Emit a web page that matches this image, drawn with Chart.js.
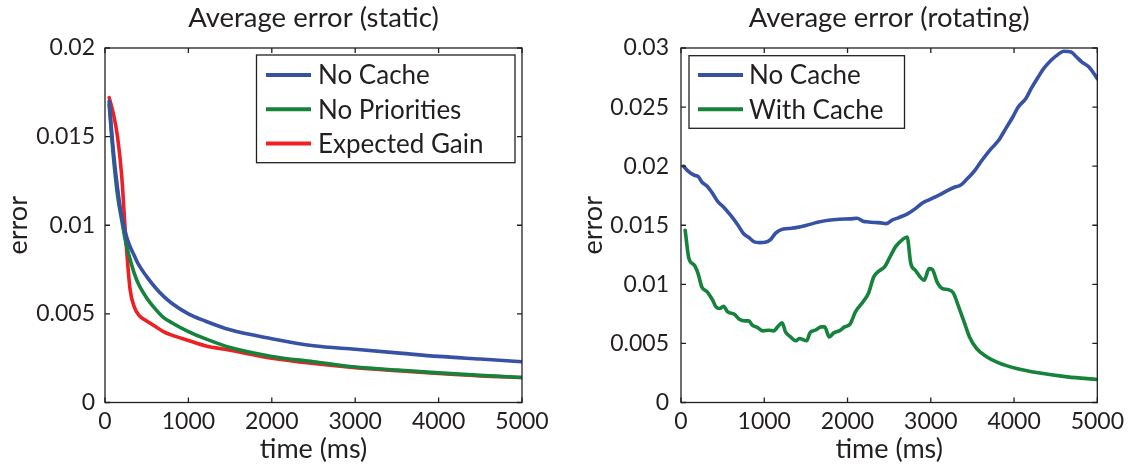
<!DOCTYPE html>
<html><head><meta charset="utf-8">
<script src="https://cdn.jsdelivr.net/npm/chart.js@4/dist/chart.umd.min.js"></script>
<style>
html,body{margin:0;padding:0;background:#fff;overflow:hidden;width:1129px;height:465px;}
.box{position:absolute;top:0;height:465px;}
#b1{left:0;width:560px;} #b2{left:560px;width:569px;}
</style></head><body>
<div class="box" id="b1"><canvas id="c1"></canvas></div>
<div class="box" id="b2"><canvas id="c2"></canvas></div>
<script>
// ---------- data ----------
const xTicks = [0, 1000, 2000, 3000, 4000, 5000];
const xTickLabels = ['0', '1000', '2000', '3000', '4000', '5000'];
const yTicksStatic = [0, 0.005, 0.01, 0.015, 0.02];
const yTickLabelsStatic = ['0', '0.005', '0.01', '0.015', '0.02'];
const yTicksRot = [0, 0.005, 0.01, 0.015, 0.02, 0.025, 0.03];
const yTickLabelsRot = ['0', '0.005', '0.01', '0.015', '0.02', '0.025', '0.03'];

// Average error (static)
const staticTime = [50,100,150,200,250,300,350,400,500,600,700,800,1000,1200,1500,2000,2500,3000,3500,4000,4500,5000];
const staticNoCache = [0.0170,0.0142,0.0121,0.0105,0.0095,0.0088,0.0083,0.0078,0.0071,0.0065,0.0060,0.0056,0.0050,0.0046,0.0041,0.0036,0.0032,0.0030,0.0028,0.0026,0.00245,0.0023];
const staticNoPriorities = [0.0168,0.0139,0.0117,0.0103,0.0090,0.0081,0.0073,0.0067,0.0059,0.0053,0.0048,0.0045,0.0040,0.0036,0.0031,0.0026,0.0023,0.0020,0.00183,0.00167,0.00153,0.00141];
const gainTime = [50,100,150,200,250,300,350,410,500,600,700,800,1000,1200,1500,2000,2500,3000,3500,4000,4500,5000];
const staticExpectedGain = [0.0172,0.0163,0.0150,0.0128,0.0092,0.0064,0.0054,0.0049,0.0046,0.0043,0.0040,0.0038,0.0035,0.0032,0.00295,0.0025,0.0022,0.00197,0.0018,0.00164,0.0015,0.00141];

// Average error (rotating)
const rotNoCacheTime = [30,75,160,205,250,315,380,445,510,595,685,750,815,880,945,1010,1075,1140,1205,1290,1380,1510,1640,1770,1900,2030,2115,2185,2250,2335,2400,2465,2530,2615,2725,2815,2900,2985,3095,3205,3290,3355,3420,3530,3615,3725,3815,3900,3985,4050,4140,4205,4290,4355,4445,4530,4595,4685,4750,4815,4900,5000];
const rotNoCache = [0.0200,0.01965,0.01923,0.01914,0.01866,0.0183,0.01768,0.01697,0.01655,0.01585,0.0150,0.0143,0.01396,0.01359,0.01353,0.01356,0.01379,0.01435,0.01463,0.01472,0.0148,0.0150,0.01525,0.01542,0.01551,0.01554,0.01559,0.01534,0.01528,0.01523,0.0152,0.01514,0.01542,0.01565,0.01599,0.01641,0.01689,0.01717,0.01754,0.01796,0.01824,0.01838,0.0188,0.01965,0.0205,0.02148,0.02219,0.02318,0.02416,0.02501,0.02571,0.02656,0.02755,0.02825,0.02896,0.02946,0.02972,0.02966,0.02924,0.02881,0.02839,0.0274];
const rotWithCacheTime = [50,95,160,205,250,315,380,420,465,510,560,640,705,770,815,855,920,985,1050,1115,1160,1215,1255,1315,1380,1420,1510,1550,1615,1685,1725,1780,1835,1900,1965,2030,2095,2185,2250,2315,2380,2445,2510,2575,2660,2715,2760,2815,2920,2980,3020,3075,3140,3205,3270,3335,3400,3465,3550,3660,3815,4030,4290,4640,5000];
const rotWithCache = [0.01458,0.01218,0.01162,0.01091,0.00978,0.00936,0.00866,0.00809,0.00795,0.00815,0.00767,0.00747,0.00702,0.00691,0.00691,0.00654,0.00634,0.00606,0.00612,0.00606,0.0064,0.00674,0.00598,0.00555,0.00522,0.00541,0.00522,0.00592,0.00612,0.0064,0.0064,0.00555,0.00589,0.00606,0.0064,0.00663,0.00767,0.00851,0.00922,0.01063,0.01114,0.01148,0.01232,0.01317,0.01379,0.01401,0.01176,0.01119,0.01035,0.01133,0.01125,0.01021,0.00964,0.00956,0.00928,0.00809,0.00682,0.00555,0.00457,0.00392,0.00336,0.00288,0.00251,0.00217,0.00195];

// ---------- style ----------
const FONT = 'Lato, "Open Sans", sans-serif';
const TXT = '#231f20';
const AX = '#231f20';
const BLUE = '#3752a5', GREEN = '#15833c', RED = '#ee2024';
const LW = 3.6;

const framePlugin = {
  id: 'frame',
  afterDatasetsDraw(chart) {
    const ctx = chart.ctx, a = chart.chartArea;
    const xs = chart.scales.x, ys = chart.scales.y;
    ctx.save();
    ctx.strokeStyle = AX; ctx.lineWidth = 1.3;
    ctx.strokeRect(a.left, a.top, a.right - a.left, a.bottom - a.top);
    const TL = 5;
    ctx.beginPath();
    xs.ticks.forEach(t => {
      const px = xs.getPixelForValue(t.value);
      ctx.moveTo(px, a.bottom); ctx.lineTo(px, a.bottom - TL);
      ctx.moveTo(px, a.top); ctx.lineTo(px, a.top + TL);
    });
    ys.ticks.forEach(t => {
      const py = ys.getPixelForValue(t.value);
      ctx.moveTo(a.left, py); ctx.lineTo(a.left + TL, py);
      ctx.moveTo(a.right, py); ctx.lineTo(a.right - TL, py);
    });
    ctx.stroke();
    ctx.restore();
  }
};

const legendPlugin = {
  id: 'boxLegend',
  afterDraw(chart, args, o) {
    const ctx = chart.ctx, a = chart.chartArea;
    const L = o.side === 'right' ? a.right - o.dx - o.w : a.left + o.dx;
    const T = a.top + o.dy;
    ctx.save();
    ctx.fillStyle = '#fff';
    ctx.fillRect(L, T, o.w, o.h);
    ctx.strokeStyle = AX; ctx.lineWidth = 1.3;
    ctx.strokeRect(L, T, o.w, o.h);
    chart.data.datasets.forEach((ds, i) => {
      const y = T + o.first + i * o.step;
      ctx.strokeStyle = ds.borderColor; ctx.lineWidth = LW + 0.4;
      ctx.beginPath(); ctx.moveTo(L + o.s0, y); ctx.lineTo(L + o.s1, y); ctx.stroke();
      ctx.fillStyle = TXT;
      ctx.font = o.fontSize + 'px ' + FONT;
      ctx.textBaseline = 'middle';
      ctx.fillText(ds.label, L + o.tx, y + o.ty);
    });
    ctx.restore();
  }
};

function setTicks(values) { return s => { s.ticks = values.map(v => ({ value: v })); }; }

function makeChart(id, cfg) {
  const font = (size) => ({ family: FONT, size: size });
  return new Chart(document.getElementById(id), {
    type: 'line',
    data: {
      datasets: cfg.series.map(s => ({
        label: s.label,
        data: s.x.map((t, i) => ({ x: t, y: s.y[i] })),
        borderColor: s.color, backgroundColor: s.color,
        borderWidth: LW, pointRadius: 0, fill: false,
        cubicInterpolationMode: 'monotone',
        borderCapStyle: 'round', borderJoinStyle: 'round'
      }))
    },
    options: {
      responsive: true, maintainAspectRatio: false, animation: false, devicePixelRatio: 1,
      events: [],
      layout: { padding: 0 },
      plugins: { legend: { display: false }, title: { display: false }, tooltip: { enabled: false }, boxLegend: cfg.legend },
      scales: {
        x: {
          type: 'linear', position: 'bottom', min: 0, max: 5000,
          afterBuildTicks: setTicks(xTicks),
          ticks: { callback: (v, i) => xTickLabels[i], padding: 5, color: TXT, font: font(23), maxRotation: 0, autoSkip: false },
          grid: { display: false, drawTicks: false }, border: { display: false },
          title: { display: true, text: 'time (ms)', color: TXT, font: font(27), padding: { top: 0, bottom: 0 } },
          afterFit: s => { s.height = cfg.bottom; }
        },
        xTop: {
          type: 'linear', position: 'top', min: 0, max: 5000,
          ticks: { display: false }, grid: { display: false, drawTicks: false }, border: { display: false },
          title: { display: true, text: cfg.title, color: TXT, font: font(27.5), padding: { top: 2, bottom: 0 } },
          afterFit: s => { s.height = cfg.top; }
        },
        y: {
          type: 'linear', position: 'left', min: 0, max: cfg.ymax,
          afterBuildTicks: setTicks(cfg.yTicks),
          ticks: { callback: (v, i) => cfg.yLabels[i], padding: cfg.ypad, color: TXT, font: font(23), autoSkip: false },
          grid: { display: false, drawTicks: false }, border: { display: false },
          title: { display: true, text: 'error', color: TXT, font: font(27), padding: { top: cfg.ytitlePad, bottom: 0 } },
          afterFit: s => { s.width = cfg.left; }
        },
        yRight: {
          type: 'linear', position: 'right', min: 0, max: cfg.ymax,
          ticks: { display: false }, grid: { display: false, drawTicks: false }, border: { display: false },
          afterFit: s => { s.width = cfg.right; }
        }
      }
    },
    plugins: [framePlugin, legendPlugin]
  });
}

makeChart('c1', {
  title: 'Average error (static)',
  ymax: 0.02, yTicks: yTicksStatic, yLabels: yTickLabelsStatic,
  left: 105, right: 38, top: 48, bottom: 62.5, ypad: 10, ytitlePad: 2,
  series: [
    { label: 'No Cache', x: staticTime, y: staticNoCache, color: BLUE },
    { label: 'No Priorities', x: staticTime, y: staticNoPriorities, color: GREEN },
    { label: 'Expected Gain', x: gainTime, y: staticExpectedGain, color: RED }
  ],
  legend: { side: 'right', dx: 7, dy: 7, w: 258.5, h: 107.7, first: 20, step: 34.2, s0: 9.5, s1: 54.5, tx: 61.5, ty: 1, fontSize: 26 }
});

makeChart('c2', {
  title: 'Average error (rotating)',
  ymax: 0.03, yTicks: yTicksRot, yLabels: yTickLabelsRot,
  left: 121, right: 30, top: 48, bottom: 62.5, ypad: 12, ytitlePad: 17,
  series: [
    { label: 'No Cache', x: rotNoCacheTime, y: rotNoCache, color: BLUE },
    { label: 'With Cache', x: rotWithCacheTime, y: rotWithCache, color: GREEN }
  ],
  legend: { side: 'left', dx: 8, dy: 7.7, w: 215.5, h: 72.6, first: 19.3, step: 34.3, s0: 9, s1: 54, tx: 60, ty: 1, fontSize: 26 }
});
</script>
</body></html>
